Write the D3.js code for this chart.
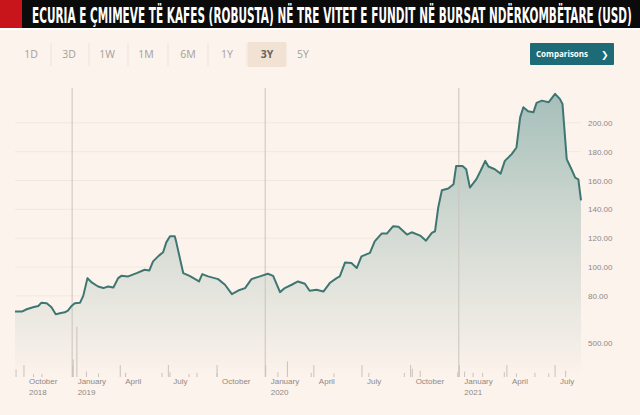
<!DOCTYPE html>
<html>
<head>
<meta charset="utf-8">
<script src="https://cdn.jsdelivr.net/npm/d3@7"></script>
<style>
html,body{margin:0;padding:0;background:#fcf3ec;}
svg{display:block;}
</style>
</head>
<body>
<svg id="chart" width="640" height="415"></svg>
<script>
const titleText = "ECURIA E ÇMIMEVE TË KAFES (ROBUSTA) NË TRE VITET E FUNDIT NË BURSAT NDËRKOMBËTARE (USD)";
const rangeButtons = ["1D","3D","1W","1M","6M","1Y","3Y","5Y"];
const activeButton = "3Y";

const dates = ["2018-09-15","2018-09-28","2018-10-07","2018-10-19","2018-10-29","2018-11-04","2018-11-14","2018-11-23","2018-12-01","2018-12-09","2018-12-18","2018-12-24","2018-12-31",
"2019-01-06","2019-01-16","2019-01-22","2019-01-30","2019-02-07","2019-02-19","2019-03-01","2019-03-10","2019-03-20","2019-03-29","2019-04-04","2019-04-17","2019-05-03","2019-05-18","2019-05-27","2019-06-03","2019-06-14","2019-06-22","2019-06-28","2019-07-05","2019-07-14","2019-07-17","2019-07-30","2019-08-11","2019-08-29","2019-09-04","2019-09-15","2019-10-04","2019-10-17","2019-10-30","2019-11-11","2019-11-24","2019-12-06","2019-12-22",
"2020-01-06","2020-01-16","2020-01-29","2020-02-07","2020-02-20","2020-03-03","2020-03-16","2020-03-25","2020-04-07","2020-04-20","2020-05-02","2020-05-15","2020-05-21","2020-05-31","2020-06-12","2020-06-22","2020-07-01","2020-07-17","2020-07-26","2020-08-08","2020-08-18","2020-08-30","2020-09-09","2020-09-25","2020-10-04","2020-10-20","2020-10-31","2020-11-11","2020-11-17","2020-11-23","2020-11-30","2020-12-12","2020-12-22","2020-12-27",
"2021-01-08","2021-01-15","2021-01-22","2021-02-03","2021-02-11","2021-02-20","2021-02-26","2021-03-10","2021-03-21","2021-03-29","2021-04-11","2021-04-20","2021-04-27","2021-05-03","2021-05-12","2021-05-22","2021-05-28","2021-06-07","2021-06-20","2021-07-02","2021-07-11","2021-07-16","2021-07-24","2021-08-02","2021-08-09","2021-08-15","2021-08-20"];
const prices = [69.1,69.1,70.7,72.1,73.0,75.3,74.9,72.1,67.2,67.9,68.6,69.8,73.0,
74.9,75.3,80.0,92.3,89.3,86.5,85.4,86.5,85.8,92.3,93.9,93.5,95.8,98.1,97.6,103.9,107.9,110.2,117.1,121.3,121.3,117.1,95.8,93.9,90.0,95.1,93.5,91.6,87.7,81.2,83.7,85.4,91.6,93.5,
95.3,93.9,82.6,85.4,87.7,90.0,88.4,83.5,84.2,83.0,88.9,92.3,93.5,103.2,102.8,99.3,107.4,109.8,117.8,123.2,123.2,128.3,127.9,122.5,124.1,121.8,118.3,123.7,124.8,141.1,153.2,154.4,157.4,170.1,
170.1,167.8,155.1,160.8,166.6,173.6,169.7,167.8,164.8,173.6,178.3,182.9,203.8,210.8,208.0,207.3,213.8,215.4,214.3,220.1,216.6,213.1,174.8,167.8,162.0,160.8,146.2];

const priceTicks = [80,100,120,140,160,180,200];
const priceTickLabels = ["80.00","100.00","120.00","140.00","160.00","180.00","200.00"];
const volumeTicks = [500];
const volumeTickLabels = ["500.00"];

const volumeDates = ["2018-09-17","2018-10-20","2018-11-05","2019-01-03","2019-01-10","2019-01-28","2019-02-20","2019-04-12","2019-06-20","2019-07-05","2019-08-10","2019-08-25","2019-10-02","2020-01-25","2020-02-12","2020-03-28","2020-05-10","2020-07-15","2020-09-20","2020-10-05","2020-10-20","2020-12-30","2021-01-12","2021-01-28","2021-02-15","2021-03-28","2021-04-20","2021-05-25","2021-06-20","2021-07-22"];
const volumeValues = [110,40,45,260,740,80,50,60,60,70,45,60,60,70,230,60,50,60,60,120,90,70,80,60,60,70,50,60,50,90];

const xTickDates = ["2018-10-01","2019-01-01","2019-04-01","2019-07-01","2019-10-01","2020-01-01","2020-04-01","2020-07-01","2020-10-01","2021-01-01","2021-04-01","2021-07-01"];
const xTickLabels = [["October","2018"],["January","2019"],["April"],["July"],["October"],["January","2020"],["April"],["July"],["October"],["January","2021"],["April"],["July"]];
const yearLineDates = ["2019-01-01","2020-01-01","2021-01-01"];

const parse = d3.timeParse("%Y-%m-%d");
const data = dates.map((d,i)=>({date:parse(d), value:prices[i]}));
const vol = volumeDates.map((d,i)=>({date:parse(d), value:volumeValues[i]}));

const svg = d3.select("#chart");
const W = 640, H = 415;

svg.append("rect").attr("width",W).attr("height",H).attr("fill","#fcf3ec");

// Title bar
svg.append("rect").attr("x",0).attr("y",0).attr("width",W).attr("height",28).attr("fill","#0b0b0b");
svg.append("rect").attr("x",0).attr("y",0).attr("width",22).attr("height",28).attr("fill","#c8151b");
svg.append("rect").attr("x",0).attr("y",28).attr("width",W).attr("height",2).attr("fill","#ffffff");
const titleG = svg.append("g");
const title = titleG.append("text").attr("x",0).attr("y",0)
  .attr("font-family","'Liberation Sans Narrow','DejaVu Sans Condensed',sans-serif")
  .attr("font-weight","bold").attr("font-size",22).attr("fill","#ffffff")
  .text(titleText);
const natural = title.node().getComputedTextLength();
const targetW = 600;
titleG.attr("transform",`translate(32,22.5) scale(${targetW/natural},1)`);

// Range buttons
const btnX = [31,69,107,146,188,227,267,303];
const sepX = [51,89,128,168,208,247,286];
svg.append("rect").attr("x",248).attr("y",42).attr("width",38).attr("height",25).attr("fill","#f2e2d4");
sepX.forEach(x=>{
  svg.append("line").attr("x1",x).attr("x2",x).attr("y1",43).attr("y2",66).attr("stroke","#efe3d8").attr("stroke-width",1);
});
rangeButtons.forEach((b,i)=>{
  svg.append("text").attr("x",btnX[i]).attr("y",58).attr("text-anchor","middle")
    .attr("font-family","'Open Sans',sans-serif").attr("font-size",10.5)
    .attr("font-weight", b===activeButton?"bold":"normal")
    .attr("fill", b===activeButton?"#6b625c":"#a59e98").text(b);
});
svg.append("rect").attr("x",530).attr("y",43).attr("width",84).attr("height",22).attr("rx",1).attr("fill","#1c6b76");
svg.append("text").attr("x",536).attr("y",57).attr("font-family","'Open Sans',sans-serif").attr("font-weight","bold")
  .attr("font-size",8).attr("fill","#ffffff").text("Comparisons");
svg.append("text").attr("x",601).attr("y",58).attr("font-family","'DejaVu Sans',sans-serif").attr("font-weight","bold")
  .attr("font-size",9).attr("fill","#ffffff").text("❯");

// Scales
const x = d3.scaleTime().domain([parse("2018-09-15"), parse("2021-08-20")]).range([15,581]);
const y = d3.scaleLinear().domain([60,220]).range([324.7,94]);
const yv = d3.scaleLinear().domain([0,500]).range([377,343]);

// gridlines
svg.append("g").selectAll("line").data(priceTicks).join("line")
  .attr("x1",15).attr("x2",581).attr("y1",d=>y(d)).attr("y2",d=>y(d))
  .attr("stroke","#f2e8df").attr("stroke-width",1);
svg.append("g").selectAll("line").data(volumeTicks).join("line")
  .attr("x1",15).attr("x2",581).attr("y1",d=>yv(d)).attr("y2",d=>yv(d))
  .attr("stroke","#f4eae2").attr("stroke-width",1);

// gradient
const defs = svg.append("defs");
const grad = defs.append("linearGradient").attr("id","fillGrad").attr("gradientUnits","userSpaceOnUse")
  .attr("x1",0).attr("x2",0).attr("y1",95).attr("y2",378);
grad.append("stop").attr("offset","0%").attr("stop-color","#a6bfba");
grad.append("stop").attr("offset","40%").attr("stop-color","#ccd6cf");
grad.append("stop").attr("offset","100%").attr("stop-color","#fcf3ec");

const area = d3.area().x(d=>x(d.date)).y0(378).y1(d=>y(d.value)).curve(d3.curveLinear);
svg.append("path").datum(data).attr("d",area).attr("fill","url(#fillGrad)");

// year lines
svg.append("g").selectAll("line").data(yearLineDates.map(parse)).join("line")
  .attr("x1",d=>x(d)).attr("x2",d=>x(d)).attr("y1",88).attr("y2",377)
  .attr("stroke","#cbc3bc").attr("stroke-width",1);

// volume bars
svg.append("g").selectAll("line").data(vol).join("line")
  .attr("x1",d=>x(d.date)).attr("x2",d=>x(d.date)).attr("y1",yv(0)).attr("y2",d=>yv(d.value))
  .attr("stroke","#c9c2bb").attr("stroke-width",1);

// price line
const line = d3.line().x(d=>x(d.date)).y(d=>y(d.value));
svg.append("path").datum(data).attr("d",line).attr("fill","none")
  .attr("stroke","#3e7772").attr("stroke-width",2).attr("stroke-linejoin","round");

// y axis labels
const yAxis = d3.axisRight(y).tickValues(priceTicks).tickSize(0).tickFormat((d,i)=>priceTickLabels[i]);
const gy = svg.append("g").attr("transform","translate(588,0)").call(yAxis);
gy.select(".domain").remove();
gy.selectAll("text").attr("font-family","'Liberation Sans',sans-serif").attr("font-size",8).attr("fill","#8f8985").attr("x",0);

const vAxis = d3.axisRight(yv).tickValues(volumeTicks).tickSize(0).tickFormat((d,i)=>volumeTickLabels[i]);
const gv = svg.append("g").attr("transform","translate(588,0)").call(vAxis);
gv.select(".domain").remove();
gv.selectAll("text").attr("font-family","'Liberation Sans',sans-serif").attr("font-size",8).attr("fill","#8f8985").attr("x",0);

// x axis
const xAxis = d3.axisBottom(x).tickValues(xTickDates.map(parse)).tickSize(-12).tickFormat("");
const gx = svg.append("g").attr("transform","translate(0,377)").call(xAxis);
gx.select(".domain").remove();
gx.selectAll(".tick line").attr("stroke","#c9c2bb");
gx.selectAll(".tick").each(function(d,i){
  const t = d3.select(this).append("text").attr("x",5).attr("y",7)
    .attr("font-family","'Liberation Sans',sans-serif").attr("font-size",8).attr("fill","#8f8985").attr("text-anchor","start");
  xTickLabels[i].forEach((s,j)=>{
    t.append("tspan").attr("x",5).attr("dy", j===0 ? 0 : 11).text(s);
  });
});
</script>
</body>
</html>
